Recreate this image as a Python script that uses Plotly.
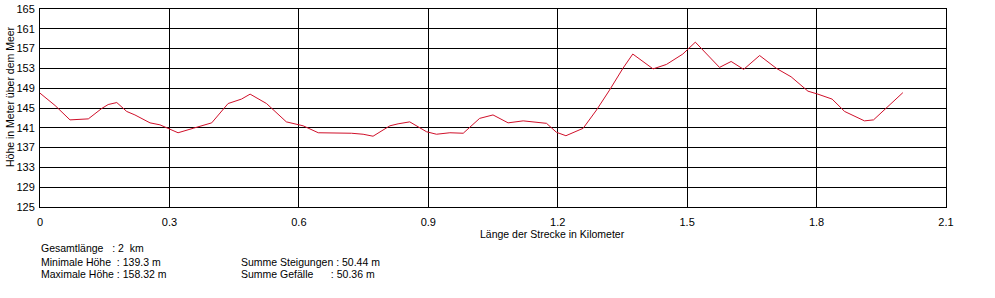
import plotly.graph_objects as go

distance_km = [0.0, 0.035, 0.0695, 0.112, 0.143, 0.158, 0.178, 0.201, 0.22, 0.255, 0.278, 0.3,
               0.32, 0.355, 0.398, 0.436, 0.467, 0.487, 0.525, 0.571, 0.61, 0.645, 0.695,
               0.722, 0.749, 0.772, 0.811, 0.83, 0.857, 0.896, 0.919, 0.95, 0.981, 1.019,
               1.05, 1.085, 1.12, 1.158, 1.174, 1.197, 1.219, 1.259, 1.29, 1.32, 1.351,
               1.374, 1.421, 1.452, 1.49, 1.519, 1.575, 1.602, 1.631, 1.668, 1.707, 1.741,
               1.78, 1.803, 1.836, 1.865, 1.911, 1.932, 1.961, 2.0]
elevation_m = [148.0, 145.5, 142.6, 142.8, 144.9, 145.7, 146.1, 144.3, 143.6, 142.0, 141.6, 140.8,
               140.0, 140.9, 142.0, 145.9, 146.8, 147.8, 145.9, 142.2, 141.4, 140.0, 140.0,
               139.9, 139.7, 139.3, 141.4, 141.8, 142.2, 140.2, 139.7, 140.0, 139.9, 142.9,
               143.6, 142.0, 142.4, 142.1, 141.9, 140.1, 139.4, 140.9, 144.6, 148.6, 153.0,
               155.9, 152.9, 153.8, 155.9, 158.3, 153.2, 154.4, 152.8, 155.6, 153.0, 151.3,
               148.4, 147.8, 146.8, 144.3, 142.4, 142.6, 144.9, 148.1]

x_ticks = [0, 0.3, 0.6, 0.9, 1.2, 1.5, 1.8, 2.1]
x_tick_labels = ["0", "0.3", "0.6", "0.9", "1.2", "1.5", "1.8", "2.1"]
y_ticks = [125, 129, 133, 137, 141, 145, 149, 153, 157, 161, 165]

summary_left = ["Gesamtlänge\u00a0\u00a0\u00a0: 2\u00a0\u00a0km",
                "Minimale Höhe\u00a0\u00a0: 139.3 m",
                "Maximale Höhe : 158.32 m"]
summary_right = ["Summe Steigungen : 50.44 m",
                 "Summe Gefälle\u00a0\u00a0\u00a0\u00a0\u00a0\u00a0: 50.36 m"]

FONT = "Liberation Sans, Arial, sans-serif"

fig = go.Figure()
fig.add_trace(go.Scatter(x=distance_km, y=elevation_m, mode="lines",
                         line=dict(color="#d0102a", width=1), hoverinfo="skip"))

fig.update_layout(
    width=995, height=298,
    margin=dict(l=40, r=49, t=9, b=91),
    paper_bgcolor="white", plot_bgcolor="white",
    showlegend=False,
    font=dict(family=FONT, size=11, color="black"),
    xaxis=dict(range=[0, 2.1], tickvals=x_ticks, ticktext=x_tick_labels,
               showgrid=True, gridcolor="black", gridwidth=1,
               showline=True, linecolor="black", linewidth=1, mirror=True,
               zeroline=False, ticks="", ticklabelstandoff=5, automargin=False),
    yaxis=dict(range=[125, 165], tickvals=y_ticks,
               showgrid=True, gridcolor="black", gridwidth=1,
               showline=True, linecolor="black", linewidth=1, mirror=True,
               zeroline=False, ticks="", ticklabelstandoff=2, automargin=False),
)

anns = [dict(text="Länge der Strecke in Kilometer", x=552, y=234)]
for i, t in enumerate(summary_left):
    anns.append(dict(text=t, x=39, y=[248, 262, 274][i], xanchor="left"))
for i, t in enumerate(summary_right):
    anns.append(dict(text=t, x=239, y=[262, 274][i], xanchor="left"))

for a in anns:
    fig.add_annotation(text=a["text"], xref="paper", yref="paper",
                       x=(a["x"] - 40) / 906, y=(207 - a["y"]) / 198,
                       xanchor=a.get("xanchor", "center"), yanchor="middle",
                       showarrow=False, font=dict(family=FONT, size=10.5, color="black"))

# y-axis title as rotated annotation
fig.add_annotation(text="Höhe in Meter über dem Meer", xref="paper", yref="paper",
                   x=(10 - 40) / 906, y=(207 - 97) / 198, textangle=-90,
                   xanchor="center", yanchor="middle", showarrow=False,
                   font=dict(family=FONT, size=10.5, color="black"))

fig.write_html("out.html")
